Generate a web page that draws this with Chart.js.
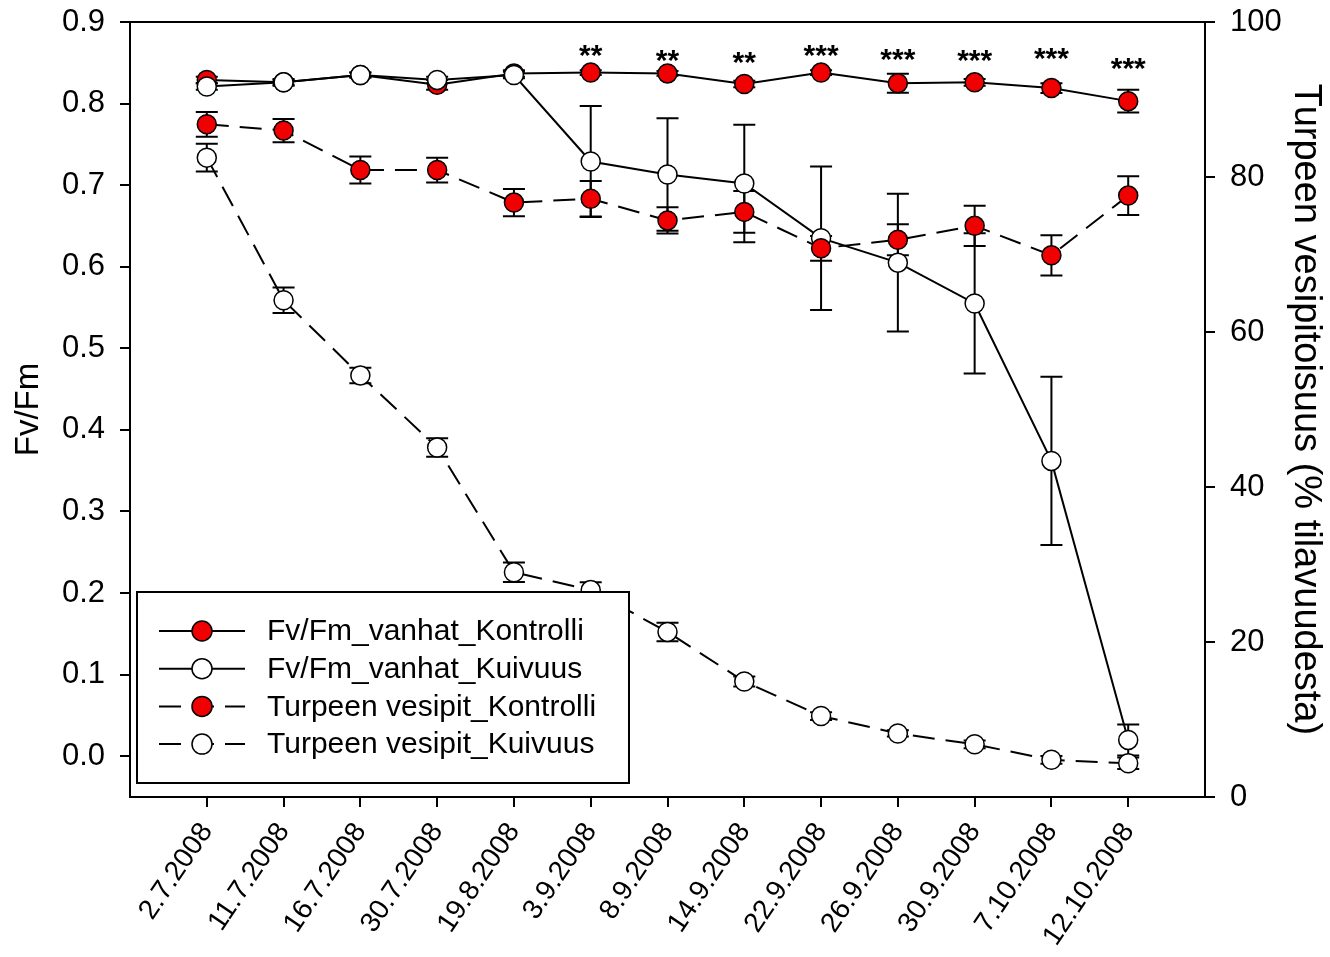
<!DOCTYPE html>
<html><head><meta charset="utf-8">
<script src="https://cdn.jsdelivr.net/npm/chart.js@4.4.1/dist/chart.umd.min.js"></script>
<style>html,body{margin:0;padding:0;background:#fff;} canvas{display:block;}</style>
</head><body>
<canvas id="c" width="1330" height="957"></canvas>
<script>
// ---- data ----
const dates = ['2.7.2008','11.7.2008','16.7.2008','30.7.2008','19.8.2008','3.9.2008','8.9.2008','14.9.2008','22.9.2008','26.9.2008','30.9.2008','7.10.2008','12.10.2008'];
const fvKontrolli    = [0.829,0.826,0.835,0.823,0.837,0.838,0.837,0.824,0.838,0.825,0.826,0.819,0.803];
const fvKontrolliErr = [0.004,0.003,0.003,0.006,0.004,0.003,0.003,0.004,0.003,0.0116,0.004,0.006,0.014];
const fvKuivuus      = [0.821,0.826,0.835,0.829,0.835,0.729,0.713,0.702,0.635,0.605,0.555,0.362,0.020];
const fvKuivuusErr   = [0.004,0.004,0.003,0.004,0.004,0.068,0.069,0.072,0.088,0.0845,0.086,0.103,0.019];
const vesiKontrolli    = [86.8,86.0,80.9,80.9,76.7,77.2,74.4,75.5,70.8,71.9,73.7,69.9,77.6];
const vesiKontrolliErr = [1.6,1.5,1.75,1.6,1.75,2.3,1.7,2.7,1.6,2.0,2.6,2.6,2.5];
const vesiKuivuus      = [82.5,64.1,54.4,45.1,29.0,26.7,21.3,14.9,10.45,8.2,6.8,4.8,4.35];
const vesiKuivuusErr   = [1.8,1.65,1.0,1.2,1.25,1.0,1.2,0.65,0.5,0.4,0.5,0.5,0.75];
const leftTicks  = [0,0.1,0.2,0.3,0.4,0.5,0.6,0.7,0.8,0.9];
const rightTicks = [0,20,40,60,80,100];
const starLabels = ['','','','','','**','**','**','***','***','***','***','***'];
const starLevels = [null,null,null,null,null,0.868,0.862,0.860,0.868,0.863,0.862,0.865,0.852];

const FONT = "'Liberation Sans', Arial, Helvetica, sans-serif";
const RED = '#f00000';
const pts = arr => arr.map((v, i) => ({x: i, y: v}));

const errorBars = {
  id: 'errorBars',
  beforeDatasetsDraw(chart) {
    const ctx = chart.ctx;
    ctx.save();
    ctx.strokeStyle = '#000';
    ctx.lineWidth = 2;
    ctx.setLineDash([]);
    chart.data.datasets.forEach(ds => {
      const xs = chart.scales.x, ys = chart.scales[ds.yAxisID];
      ds.errors.forEach((e, i) => {
        const v = ds.data[i].y;
        const px = xs.getPixelForValue(i);
        const t = ys.getPixelForValue(v + e), b = ys.getPixelForValue(v - e);
        ctx.beginPath();
        ctx.moveTo(px, t); ctx.lineTo(px, b);
        ctx.moveTo(px - 11, t); ctx.lineTo(px + 11, t);
        ctx.moveTo(px - 11, b); ctx.lineTo(px + 11, b);
        ctx.stroke();
      });
    });
    ctx.restore();
  }
};

const extras = {
  id: 'extras',
  afterDatasetsDraw(chart) {
    const ctx = chart.ctx, xs = chart.scales.x, ys = chart.scales.y;
    ctx.save();
    ctx.fillStyle = '#000';
    ctx.font = 'bold 30px ' + FONT;
    ctx.textAlign = 'center';
    ctx.textBaseline = 'alphabetic';
    starLabels.forEach((s, i) => {
      if (!s) return;
      ctx.fillText(s, xs.getPixelForValue(i), ys.getPixelForValue(starLevels[i]) + 17);
    });
    ctx.restore();
  },
  afterDraw(chart) {
    const ctx = chart.ctx, ca = chart.chartArea;
    ctx.save();
    // frame
    ctx.strokeStyle = '#000';
    ctx.lineWidth = 2;
    ctx.strokeRect(ca.left, ca.top, ca.right - ca.left, ca.bottom - ca.top);
    // legend
    const bx = ca.left + 7, by = ca.bottom - 205, bw = 492, bh = 191;
    ctx.fillStyle = '#fff';
    ctx.fillRect(bx, by, bw, bh);
    ctx.strokeRect(bx, by, bw, bh);
    chart.data.datasets.forEach((ds, i) => {
      const y = by + 39 + i * 37.7;
      const x0 = bx + 22, x1 = bx + 108, mx = bx + 65;
      ctx.strokeStyle = '#000';
      ctx.lineWidth = 2;
      ctx.setLineDash(ds.borderDash || []);
      ctx.beginPath(); ctx.moveTo(x0, y); ctx.lineTo(x1, y); ctx.stroke();
      ctx.setLineDash([]);
      ctx.beginPath(); ctx.arc(mx, y, 10, 0, Math.PI * 2);
      ctx.fillStyle = ds.pointBackgroundColor; ctx.fill();
      ctx.lineWidth = 1.5; ctx.stroke();
      ctx.fillStyle = '#000';
      ctx.font = '30px ' + FONT;
      ctx.textBaseline = 'middle';
      ctx.textAlign = 'left';
      ctx.fillText(ds.label, bx + 130, y + 1);
    });
    ctx.restore();
  }
};

const common = {
  borderColor: '#000', borderWidth: 2, pointRadius: 9.5, pointHoverRadius: 9.5,
  pointBorderColor: '#000', pointBorderWidth: 1.5, tension: 0, fill: false, showLine: true
};

const fitY = w => s => { s.width = w; s.paddingTop = 0; s.paddingBottom = 0; };

new Chart(document.getElementById('c'), {
  type: 'line',
  data: {
    datasets: [
      {...common, label: 'Fv/Fm_vanhat_Kontrolli', data: pts(fvKontrolli), errors: fvKontrolliErr,
        pointBackgroundColor: RED, yAxisID: 'y', order: 4},
      {...common, label: 'Fv/Fm_vanhat_Kuivuus', data: pts(fvKuivuus), errors: fvKuivuusErr,
        pointBackgroundColor: '#fff', yAxisID: 'y', order: 3},
      {...common, label: 'Turpeen vesipit_Kontrolli', data: pts(vesiKontrolli), errors: vesiKontrolliErr,
        pointBackgroundColor: RED, yAxisID: 'y2', borderDash: [22, 11], order: 2},
      {...common, label: 'Turpeen vesipit_Kuivuus', data: pts(vesiKuivuus), errors: vesiKuivuusErr,
        pointBackgroundColor: '#fff', yAxisID: 'y2', borderDash: [22, 11], order: 1}
    ]
  },
  options: {
    responsive: false, animation: false, devicePixelRatio: 1,
    layout: {padding: {top: 22, left: 0, right: 0, bottom: 0}},
    plugins: {legend: {display: false}, tooltip: {enabled: false}},
    events: [],
    scales: {
      x: {
        type: 'linear', min: -1, max: 13,
        afterBuildTicks: s => { s.ticks = dates.map((_, i) => ({value: i})); },
        afterFit: s => { s.height = 160; },
        ticks: {autoSkip: false, minRotation: 56, maxRotation: 56, padding: 10,
          color: '#000', font: {family: FONT, size: 28},
          callback: (v, i) => dates[i]},
        grid: {drawOnChartArea: false, drawTicks: true, tickLength: 10, color: '#000', lineWidth: 2},
        border: {display: true, color: '#000', width: 2}
      },
      y: {
        position: 'left', min: -0.05, max: 0.9,
        afterBuildTicks: s => { s.ticks = leftTicks.map(v => ({value: v})); },
        afterFit: fitY(130),
        ticks: {padding: 15, color: '#000', font: {family: FONT, size: 31}, callback: v => v.toFixed(1)},
        grid: {drawOnChartArea: false, drawTicks: true, tickLength: 10, color: '#000', lineWidth: 2},
        border: {display: true, color: '#000', width: 2},
        title: {display: true, text: 'Fv/Fm', color: '#000', font: {family: FONT, size: 33}, padding: {top: 9, bottom: 0}}
      },
      y2: {
        position: 'right', min: 0, max: 100,
        afterBuildTicks: s => { s.ticks = rightTicks.map(v => ({value: v})); },
        afterFit: fitY(125),
        ticks: {padding: 15, color: '#000', font: {family: FONT, size: 31}},
        grid: {drawOnChartArea: false, drawTicks: true, tickLength: 10, color: '#000', lineWidth: 2},
        border: {display: true, color: '#000', width: 2},
        title: {display: true, text: 'Turpeen vesipitoisuus (% tilavuudesta)', color: '#000', font: {family: FONT, size: 38}, padding: {top: 2, bottom: 0}}
      }
    }
  },
  plugins: [errorBars, extras]
});
</script>
</body></html>
